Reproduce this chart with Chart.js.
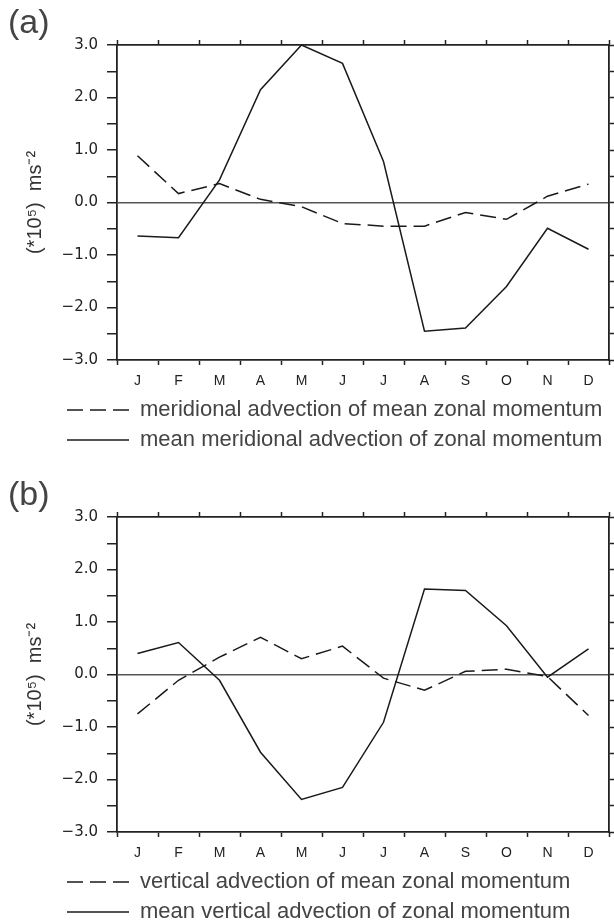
<!DOCTYPE html>
<html>
<head>
<meta charset="utf-8">
<script src="https://cdn.jsdelivr.net/npm/chart.js@4.4.1/dist/chart.umd.min.js"></script>
<style>
  html, body { margin: 0; padding: 0; background: #fff; overflow: hidden; }
  canvas { display: block; }
</style>
</head>
<body>
<canvas id="chartA" width="614" height="462"></canvas>
<canvas id="chartB" width="614" height="462"></canvas>
<script>
// months along the x axis
var months = ['J', 'F', 'M', 'A', 'M', 'J', 'J', 'A', 'S', 'O', 'N', 'D'];

// y tick labels (only the whole values carry a label)
var yTickValues = [-3, -2, -1, 0, 1, 2, 3];
var yTickLabels = ['\u22123.0', '\u22122.0', '\u22121.0', '0.0', '1.0', '2.0', '3.0'];

// panel (a)
var meridionalAdvMean = [0.89, 0.17, 0.36, 0.06, -0.08, -0.40, -0.45, -0.45, -0.19, -0.32, 0.12, 0.35];
var meanMeridionalAdv = [-0.64, -0.67, 0.43, 2.15, 3.0, 2.65, 0.78, -2.45, -2.39, -1.60, -0.49, -0.89];

// panel (b)
var verticalAdvMean = [-0.75, -0.11, 0.33, 0.71, 0.30, 0.54, -0.07, -0.30, 0.06, 0.10, -0.04, -0.78];
var meanVerticalAdv = [0.40, 0.61, -0.11, -1.48, -2.38, -2.15, -0.91, 1.63, 1.60, 0.93, -0.05, 0.49];

var ink = '#1a1a1a';
var axisInk = '#222';
var fam = '"Liberation Sans", Arial, Helvetica, sans-serif';

// draws the "(a)" / "(b)" panel tag
var panelTag = {
    id: 'panelTag',
    afterDraw: function (chart, args, opts) {
        var c = chart.ctx;
        c.save();
        c.font = '34px ' + fam;
        c.fillStyle = '#444';
        c.textBaseline = 'middle';
        c.textAlign = 'left';
        c.fillText(opts.text, 8, chart.chartArea.top - 21);
        c.restore();
    }
};

// legend items keep the dataset's dash pattern even with point styles
function legendLabels(chart) {
    var items = Chart.defaults.plugins.legend.labels.generateLabels(chart);
    items.forEach(function (it) {
        var ds = chart.data.datasets[it.datasetIndex];
        it.lineDash = ds.borderDash || [];
        it.lineWidth = ds.borderWidth;
        it.strokeStyle = ds.borderColor;
    });
    return items;
}

function makeChart(id, tag, dashedName, dashedData, solidName, solidData, padTop, padBottom) {
    return new Chart(document.getElementById(id), {
        type: 'line',
        data: {
            labels: months,
            datasets: [{
                label: dashedName,
                data: dashedData,
                borderColor: ink,
                borderWidth: 1.5,
                borderDash: [16, 7],
                pointRadius: 0,
                fill: false,
                tension: 0
            }, {
                label: solidName,
                data: solidData,
                borderColor: ink,
                borderWidth: 1.5,
                pointRadius: 0,
                fill: false,
                tension: 0
            }]
        },
        plugins: [panelTag],
        options: {
            responsive: false,
            animation: false,
            devicePixelRatio: 1,
            layout: { padding: { left: 59, right: 0, top: padTop, bottom: padBottom } },
            plugins: {
                panelTag: { text: tag },
                tooltip: { enabled: false },
                legend: {
                    position: 'bottom',
                    align: 'start',
                    maxHeight: 61,
                    labels: {
                        usePointStyle: true,
                        pointStyle: 'line',
                        pointStyleWidth: 62,
                        padding: 8,
                        color: '#444',
                        font: { family: fam, size: 22 },
                        generateLabels: legendLabels
                    }
                }
            },
            scales: {
                x: {
                    type: 'category',
                    position: 'bottom',
                    offset: true,
                    grid: { offset: true, drawOnChartArea: false, tickLength: 5, tickColor: axisInk, tickWidth: 1.5 },
                    border: { color: axisInk, width: 1.8 },
                    ticks: { color: '#222', font: { family: fam, size: 14 }, padding: 8, maxRotation: 0, autoSkip: false },
                    afterFit: function (s) { s.height = 31; }
                },
                x2: {
                    type: 'category',
                    position: 'top',
                    labels: months,
                    offset: true,
                    grid: { offset: true, drawOnChartArea: false, tickLength: 5, tickColor: axisInk, tickWidth: 1.5 },
                    border: { color: axisInk, width: 1.8 },
                    ticks: { display: false },
                    afterFit: function (s) { s.height = 10; }
                },
                y: {
                    position: 'left',
                    min: -3,
                    max: 3,
                    ticks: {
                        stepSize: 0.5,
                        maxTicksLimit: 20,
                        autoSkip: false,
                        padding: 9,
                        color: '#222',
                        font: { family: '"DejaVu Sans", sans-serif', size: 15 },
                        callback: function (v) {
                            var i = yTickValues.indexOf(v);
                            return i >= 0 ? yTickLabels[i] : '';
                        }
                    },
                    grid: {
                        drawOnChartArea: true,
                        tickLength: 10,
                        lineWidth: 1.5,
                        tickWidth: 1.5,
                        tickColor: axisInk,
                        color: function (c) { return c.tick && c.tick.value === 0 ? '#555' : 'rgba(0,0,0,0)'; }
                    },
                    border: { color: axisInk, width: 1.8 },
                    title: {
                        display: true,
                        text: '(*10\u2075)  ms\u207B\u00B2',
                        color: '#333',
                        font: { family: fam, size: 20 },
                        padding: { top: -36, bottom: 0 }
                    },
                    afterFit: function (s) { s.width = 58; }
                },
                y2: {
                    position: 'right',
                    min: -3,
                    max: 3,
                    ticks: { display: false, stepSize: 0.5, maxTicksLimit: 20 },
                    grid: { drawOnChartArea: false, tickLength: 5, tickColor: axisInk, tickWidth: 1.5 },
                    border: { color: axisInk, width: 1.8 },
                    afterFit: function (s) { s.width = 5; }
                }
            }
        }
    });
}

makeChart('chartA', '(a)',
    'meridional advection of mean zonal momentum', meridionalAdvMean,
    'mean meridional advection of zonal momentum', meanMeridionalAdv,
    35, 10);

makeChart('chartB', '(b)',
    'vertical advection of mean zonal momentum', verticalAdvMean,
    'mean vertical advection of zonal momentum', meanVerticalAdv,
    45, 0);
</script>
</body>
</html>
